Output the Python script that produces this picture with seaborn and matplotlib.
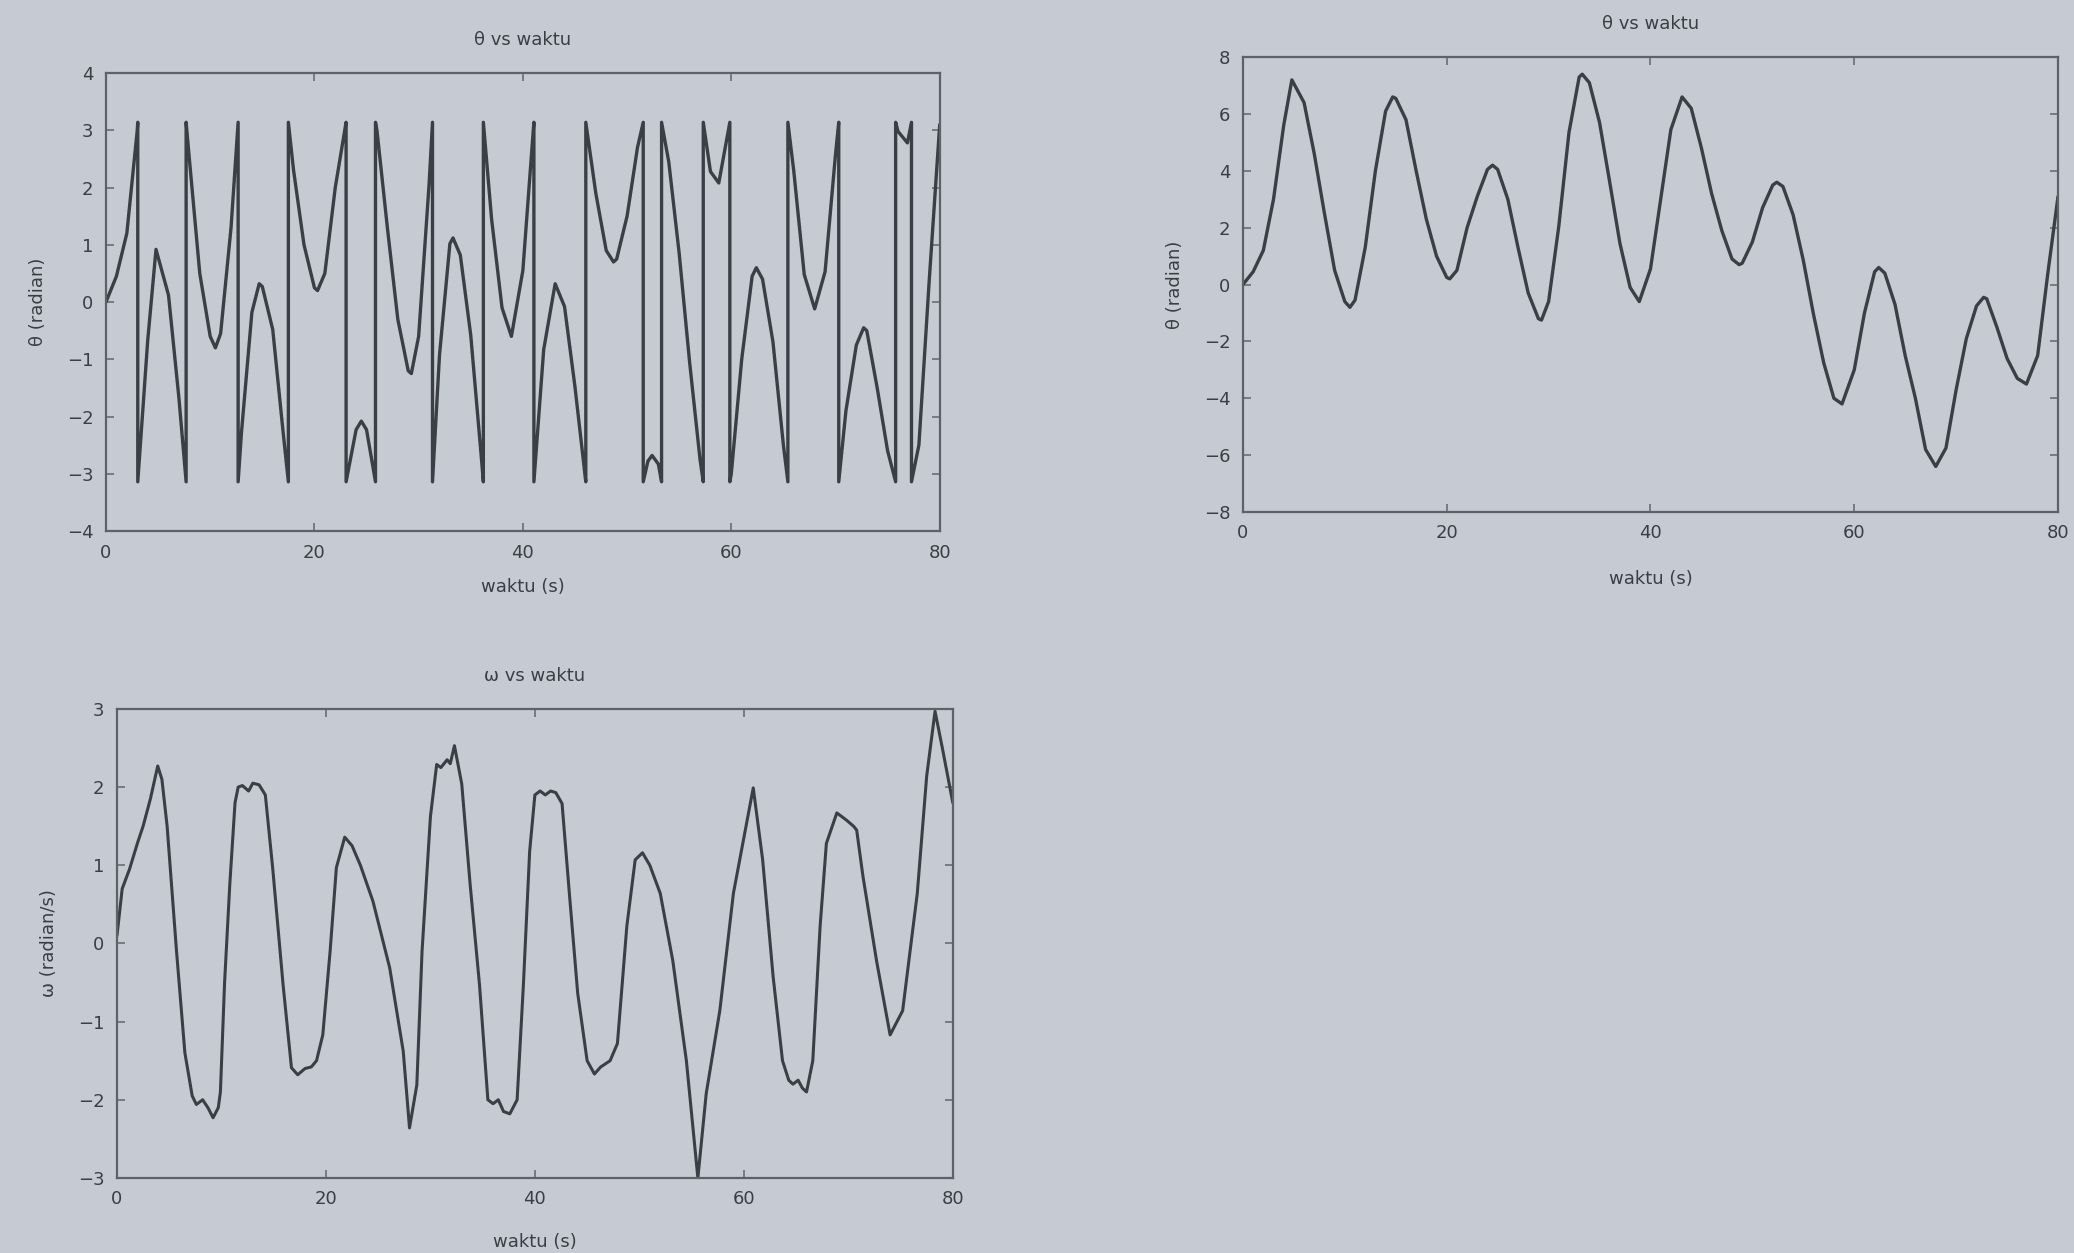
import matplotlib
matplotlib.use("Agg")
import matplotlib.pyplot as plt
import pandas as pd
import seaborn as sns

# theta (unwrapped) vs time, right-hand plot
t_theta = [0, 1, 2, 3, 4, 4.8, 6, 7, 8, 9, 10, 10.5, 11, 12, 13, 14, 14.7, 15, 16, 17,
           18, 19, 20, 20.3, 21, 22, 23, 24, 24.5, 25, 26, 27, 28, 29, 29.3, 30, 31, 32,
           33, 33.3, 34, 35, 36, 37, 38, 38.9, 40, 41, 42, 43.1, 44, 45, 46, 47, 48, 48.7,
           49, 50, 51, 52, 52.4, 53, 54, 55, 56, 57, 58, 58.8, 60, 61, 62, 62.4, 63, 64,
           65, 66, 67, 68, 69, 70, 71, 72, 72.7, 73, 74, 75, 76, 76.9, 78, 79, 80]
theta = [0.0, 0.45, 1.2, 3.0, 5.6, 7.2, 6.4, 4.6, 2.5, 0.5, -0.6, -0.8, -0.55, 1.3, 4.0,
         6.1, 6.6, 6.55, 5.8, 4.0, 2.3, 1.0, 0.25, 0.2, 0.5, 2.0, 3.1, 4.05, 4.2, 4.05,
         3.0, 1.3, -0.3, -1.2, -1.25, -0.6, 2.05, 5.35, 7.3, 7.4, 7.1, 5.7, 3.6, 1.45, -0.1,
         -0.6, 0.55, 3.0, 5.45, 6.6, 6.2, 4.8, 3.2, 1.9, 0.9, 0.7, 0.75, 1.5, 2.7, 3.5, 3.6,
         3.45, 2.45, 0.85, -1.05, -2.75, -4.0, -4.2, -3.0, -1.0, 0.45, 0.6, 0.4, -0.7, -2.5,
         -4.0, -5.8, -6.4, -5.75, -3.7, -1.9, -0.75, -0.45, -0.5, -1.5, -2.6, -3.3, -3.5,
         -2.5, 0.4, 3.1]

# theta folded into [-pi, pi], top-left plot (each jump is listed at both ends)
t_wrap = [0, 1, 2, 3, 3.05, 3.05, 4, 4.8, 6, 7, 7.69, 7.69, 8, 9, 10, 10.5, 11, 12, 12.68,
          12.68, 13, 14, 14.7, 15, 16, 17, 17.5, 17.5, 18, 19, 20, 20.3, 21, 22, 23, 23.04,
          23.04, 24, 24.5, 25, 25.86, 25.86, 26, 27, 28, 29, 29.3, 30, 31, 31.33, 31.33, 32,
          33, 33.3, 34, 35, 36, 36.21, 36.21, 37, 38, 38.9, 40, 41, 41.06, 41.06, 42, 43.1,
          44, 45, 46, 46.04, 46.04, 47, 48, 48.7, 49, 50, 51, 51.55, 51.55, 52, 52.4, 53,
          53.31, 53.31, 54, 55, 56, 57, 57.31, 57.31, 58, 58.8, 59.86, 59.86, 60, 61, 62,
          62.4, 63, 64, 65, 65.43, 65.43, 66, 67, 68, 69, 70, 70.31, 70.31, 71, 72, 72.7, 73,
          74, 75, 75.77, 75.77, 76, 76.9, 77.29, 77.29, 78, 79, 80]
theta_wrap = [0.0, 0.45, 1.2, 3.0, 3.14, -3.14, -0.68, 0.92, 0.12, -1.68, -3.14, 3.14, 2.5,
              0.5, -0.6, -0.8, -0.55, 1.3, 3.14, -3.14, -2.28, -0.18, 0.32, 0.27, -0.48,
              -2.28, -3.14, 3.14, 2.3, 1.0, 0.25, 0.2, 0.5, 2.0, 3.1, 3.14, -3.14, -2.23,
              -2.08, -2.23, -3.14, 3.14, 3.0, 1.3, -0.3, -1.2, -1.25, -0.6, 2.05, 3.14, -3.14,
              -0.93, 1.02, 1.12, 0.82, -0.58, -2.68, -3.14, 3.14, 1.45, -0.1, -0.6, 0.55, 3.0,
              3.14, -3.14, -0.83, 0.32, -0.08, -1.48, -3.08, -3.14, 3.14, 1.9, 0.9, 0.7, 0.75,
              1.5, 2.7, 3.14, -3.14, -2.78, -2.68, -2.83, -3.14, 3.14, 2.45, 0.85, -1.05,
              -2.75, -3.14, 3.14, 2.28, 2.08, 3.14, -3.14, -3.0, -1.0, 0.45, 0.6, 0.4, -0.7,
              -2.5, -3.14, 3.14, 2.28, 0.48, -0.12, 0.53, 2.58, 3.14, -3.14, -1.9, -0.75,
              -0.45, -0.5, -1.5, -2.6, -3.14, 3.14, 2.98, 2.78, 3.14, -3.14, -2.5, 0.4, 3.1]

# omega vs time, bottom plot
t_omega = [0, 0.5, 1.2, 2.0, 2.5, 3.2, 3.9, 4.3, 4.8, 5.7, 6.5, 7.2, 7.6, 8.2, 8.7, 9.2, 9.7,
           9.9, 10.3, 10.8, 11.3, 11.6, 12.0, 12.6, 13.0, 13.6, 14.2, 14.9, 15.9, 16.7, 17.3,
           18.0, 18.6, 19.1, 19.7, 20.4, 21.0, 21.8, 22.5, 23.3, 24.5, 26.1, 27.4, 28.0,
           28.7, 29.2, 30.0, 30.6, 31.0, 31.6, 31.9, 32.3, 33.0, 33.8, 34.7, 35.5, 36.0,
           36.5, 37.0, 37.6, 38.3, 38.9, 39.5, 40.0, 40.5, 41.0, 41.5, 42.0, 42.6, 43.3,
           44.1, 45.0, 45.7, 46.3, 47.2, 47.9, 48.8, 49.6, 50.3, 51.0, 52.0, 53.2, 54.5,
           55.6, 56.4, 57.7, 59.0, 60.9, 61.8, 62.8, 63.7, 64.3, 64.7, 65.2, 65.6, 66.0,
           66.6, 67.3, 67.9, 68.9, 69.8, 70.5, 70.8, 71.4, 72.7, 74.0, 75.2, 76.6, 77.5,
           78.3, 79.0, 80.0]
omega = [0.1, 0.7, 0.95, 1.3, 1.5, 1.85, 2.27, 2.1, 1.5, -0.1, -1.4, -1.95, -2.06, -2.0,
         -2.1, -2.23, -2.1, -1.9, -0.5, 0.76, 1.8, 2.0, 2.02, 1.95, 2.05, 2.03, 1.9, 0.97,
         -0.53, -1.59, -1.68, -1.6, -1.58, -1.5, -1.17, -0.1, 0.97, 1.36, 1.25, 1.0, 0.54,
         -0.31, -1.38, -2.36, -1.81, -0.1, 1.62, 2.29, 2.25, 2.35, 2.3, 2.53, 2.04, 0.76,
         -0.53, -2.0, -2.05, -2.0, -2.15, -2.18, -2.0, -0.53, 1.18, 1.9, 1.95, 1.9, 1.95,
         1.93, 1.79, 0.64, -0.64, -1.5, -1.67, -1.58, -1.5, -1.28, 0.22, 1.07, 1.16, 1.0,
         0.64, -0.22, -1.5, -3.0, -1.92, -0.86, 0.64, 1.99, 1.07, -0.42, -1.5, -1.75, -1.8,
         -1.75, -1.85, -1.9, -1.5, 0.22, 1.28, 1.67, 1.58, 1.5, 1.45, 0.86, -0.22, -1.17,
         -0.86, 0.64, 2.14, 2.97, 2.5, 1.8]

BG = "#c6cad2"
INK = "#3b3e45"

sns.set_theme(style="ticks")
plt.rcParams["font.family"] = ["DejaVu Sans"]

fig = plt.figure(figsize=(20.74, 12.53), dpi=100, facecolor=BG)
ax1 = fig.add_axes([0.0511, 0.5762, 0.402, 0.3655])
ax2 = fig.add_axes([0.5993, 0.5914, 0.393, 0.363])
ax3 = fig.add_axes([0.0564, 0.0599, 0.403, 0.3743])

sns.lineplot(x=t_wrap, y=theta_wrap, ax=ax1, sort=False, estimator=None, color=INK, lw=2.4)
sns.lineplot(x=t_theta, y=theta, ax=ax2, sort=False, estimator=None, color=INK, lw=2.4)
sns.lineplot(x=t_omega, y=omega, ax=ax3, sort=False, estimator=None, color=INK, lw=2.2)


def style(ax, lim, ticks, title, ylabel, xpad):
    ax.set_facecolor(BG)
    ax.set_xlim(0, 80)
    ax.set_ylim(*lim)
    ax.set_xticks([0, 20, 40, 60, 80])
    ax.set_yticks(ticks)
    ax.tick_params(direction="in", top=True, right=True, length=6, width=1.2,
                   colors="#6a6d74", labelcolor=INK, labelsize=13, pad=9)
    for s in ax.spines.values():
        s.set_color("#5e6168")
        s.set_linewidth(1.6)
    ax.set_title(title, fontsize=13, color=INK, pad=20)
    ax.set_xlabel("waktu (s)", fontsize=13, color=INK, labelpad=xpad)
    ax.set_ylabel(ylabel, fontsize=13, color=INK, labelpad=14)


style(ax1, (-4, 4), range(-4, 5), "θ vs waktu", "θ (radian)", 12)
style(ax2, (-8, 8), range(-8, 9, 2), "θ vs waktu", "θ (radian)", 20)
style(ax3, (-3, 3), range(-3, 4), "ω vs waktu", "ω (radian/s)", 18)

fig.savefig("out.png", dpi=100, facecolor=BG)
